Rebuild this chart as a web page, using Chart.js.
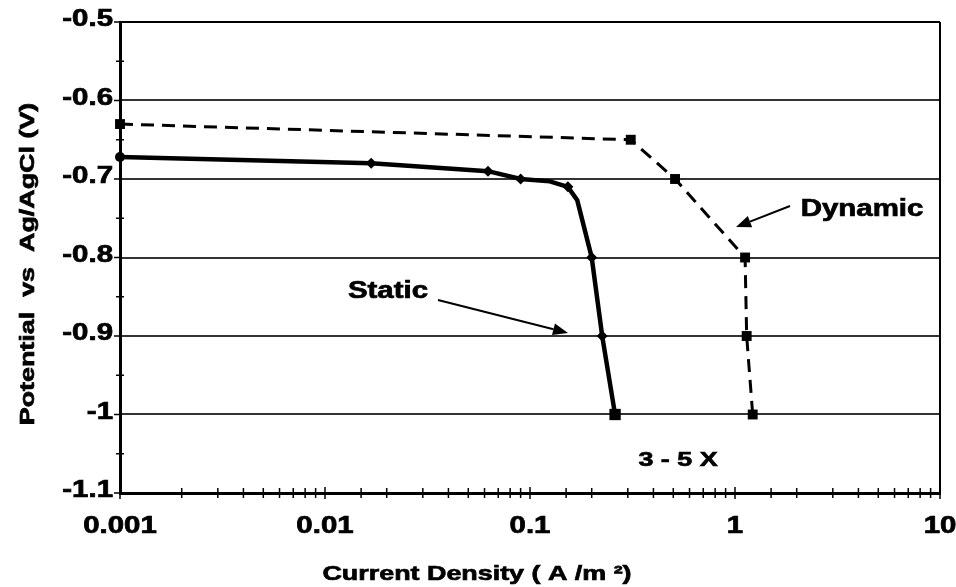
<html>
<head>
    <style>
        body { margin: 0; background: #fff; }
    </style>
</head>
<body>
    <div>
        <canvas id="myChart" width="956" height="587"></canvas>
    </div>
    <script src="https://cdn.jsdelivr.net/npm/chart.js"></script>
    <script>
        // 데이터
        const staticX = [0.001, 0.0168, 0.0624, 0.09, 0.125, 0.153, 0.17, 0.2, 0.225, 0.26];
        const staticY = [-0.672, -0.68, -0.69, -0.70, -0.703, -0.71, -0.727, -0.80, -0.90, -1.00];
        const staticMarker = [1, 1, 1, 1, 0, 1, 0, 1, 1, 1];

        const dynamicX = [0.001, 0.31, 0.51, 1.12, 1.14, 1.22];
        const dynamicY = [-0.63, -0.65, -0.70, -0.80, -0.90, -1.00];

        const xTickLabels = ['0.001', '0.01', '0.1', '1', '10'];
        const yTickLabels = ['-0.5', '-0.6', '-0.7', '-0.8', '-0.9', '-1', '-1.1'];

        const FONT = '"Liberation Sans", Arial, sans-serif';

        // 글자가 가로로 넓은 원본 모양을 흉내내기 위해 늘려서 그림
        function wideText(ctx, txt, x, y, size, align, rot) {
            ctx.save();
            ctx.translate(x, y);
            if (rot) ctx.rotate(rot);
            ctx.scale(1.28, 1);
            ctx.font = 'bold ' + size + 'px ' + FONT;
            ctx.fillStyle = '#000';
            ctx.strokeStyle = '#000';
            ctx.lineWidth = 0.7;
            ctx.textAlign = align;
            ctx.textBaseline = 'middle';
            ctx.fillText(txt, 0, 0);
            ctx.strokeText(txt, 0, 0);
            ctx.restore();
        }

        function arrow(ctx, x1, y1, x2, y2) {
            const a = Math.atan2(y2 - y1, x2 - x1);
            const len = 15, wid = 6;
            ctx.save();
            ctx.strokeStyle = '#000';
            ctx.fillStyle = '#000';
            ctx.lineWidth = 2;
            ctx.beginPath();
            ctx.moveTo(x1, y1);
            ctx.lineTo(x2 - Math.cos(a) * len, y2 - Math.sin(a) * len);
            ctx.stroke();
            ctx.beginPath();
            ctx.moveTo(x2, y2);
            ctx.lineTo(x2 - Math.cos(a) * len - Math.sin(a) * wid, y2 - Math.sin(a) * len + Math.cos(a) * wid);
            ctx.lineTo(x2 - Math.cos(a) * len + Math.sin(a) * wid, y2 - Math.sin(a) * len - Math.cos(a) * wid);
            ctx.closePath();
            ctx.fill();
            ctx.restore();
        }

        const isTenth = v => Math.abs(v * 10 - Math.round(v * 10)) < 1e-6;

        // 눈금, 라벨, 주석 그리기
        const decoPlugin = {
            id: 'deco',
            afterDraw(chart) {
                const ctx = chart.ctx;
                const area = chart.chartArea;
                const xs = chart.scales.x;
                const ys = chart.scales.y;

                // 오른쪽 테두리
                ctx.save();
                ctx.strokeStyle = '#000';
                ctx.lineWidth = 2;
                ctx.beginPath();
                ctx.moveTo(area.right, area.top);
                ctx.lineTo(area.right, area.bottom);
                ctx.stroke();

                // x축 눈금 (축을 가로지름)
                ctx.lineWidth = 1.5;
                xs.ticks.forEach(t => {
                    const px = xs.getPixelForValue(t.value);
                    const major = Math.abs(Math.log10(t.value) - Math.round(Math.log10(t.value))) < 1e-6;
                    const h = major ? 6 : 5;
                    ctx.beginPath();
                    ctx.moveTo(px, area.bottom - h);
                    ctx.lineTo(px, area.bottom + h);
                    ctx.stroke();
                });

                // y축 눈금
                ys.ticks.forEach(t => {
                    const py = ys.getPixelForValue(t.value);
                    const major = isTenth(t.value);
                    ctx.beginPath();
                    ctx.moveTo(area.left - (major ? 6 : 4), py);
                    ctx.lineTo(area.left + (major ? 0 : 4), py);
                    ctx.stroke();
                });
                ctx.restore();

                // 축 라벨
                xTickLabels.forEach(lbl => {
                    wideText(ctx, lbl, xs.getPixelForValue(Number(lbl)), 527, 23, 'center');
                });
                yTickLabels.forEach(lbl => {
                    wideText(ctx, lbl, area.left - 7, ys.getPixelForValue(Number(lbl)) - 2, 23, 'right');
                });

                // 축 제목
                wideText(ctx, 'Current Density ( A /m \u00B2)', 477, 574, 21, 'center');
                wideText(ctx, 'Potential  vs  Ag/AgCl (V)', 28, 264, 21, 'center', -Math.PI / 2);

                // 주석
                wideText(ctx, 'Dynamic', 862, 210, 23, 'center');
                arrow(ctx, 790, 206, 736, 227);
                wideText(ctx, 'Static', 388, 292, 23, 'center');
                arrow(ctx, 438, 300, 568, 333);
                wideText(ctx, '3 - 5 X', 678, 460, 21, 'center');
            }
        };

        const chartCanvas = document.querySelector('#myChart');

        new Chart(chartCanvas, {
            type: 'line',
            data: {
                datasets: [{
                    label: 'Static',
                    data: staticX.map((x, i) => ({ x: x, y: staticY[i] })),
                    borderColor: '#000',
                    backgroundColor: '#000',
                    borderWidth: 4.5,
                    tension: 0,
                    clip: false,
                    pointStyle: staticMarker.map((m, i) => i === 0 ? 'circle' : (i === staticX.length - 1 ? 'rect' : 'rectRot')),
                    pointRadius: staticMarker.map((m, i) => m ? (i === staticX.length - 1 ? 8 : (i === 0 ? 5 : 5.5)) : 0),
                    pointBorderWidth: 0
                }, {
                    label: 'Dynamic',
                    data: dynamicX.map((x, i) => ({ x: x, y: dynamicY[i] })),
                    borderColor: '#000',
                    backgroundColor: '#000',
                    borderWidth: 3,
                    borderDash: [13, 8],
                    tension: 0,
                    clip: false,
                    pointStyle: 'rect',
                    pointRadius: 7,
                    pointBorderWidth: 0
                }]
            },
            options: {
                responsive: false,
                animation: false,
                layout: { padding: { left: 0, right: 16, top: 22, bottom: 0 } },
                plugins: {
                    legend: { display: false },
                    tooltip: { enabled: false }
                },
                scales: {
                    x: {
                        type: 'logarithmic',
                        min: 0.001,
                        max: 10,
                        afterFit: s => { s.height = 94; },
                        ticks: { display: false, autoSkip: false },
                        grid: { display: false, drawTicks: false },
                        border: { color: '#000', width: 3 }
                    },
                    y: {
                        type: 'linear',
                        min: -1.1,
                        max: -0.5,
                        afterFit: s => { s.width = 120; },
                        ticks: { display: false, stepSize: 0.05, autoSkip: false },
                        grid: {
                            drawTicks: false,
                            lineWidth: 2,
                            color: c => {
                                if (!c.tick || !isTenth(c.tick.value)) return 'rgba(0,0,0,0)';
                                return Math.abs(c.tick.value + 0.5) < 1e-6 ? '#000' : '#333';
                            }
                        },
                        border: { color: '#000', width: 3 }
                    }
                }
            },
            plugins: [decoPlugin]
        });
    </script>
</body>
</html>
